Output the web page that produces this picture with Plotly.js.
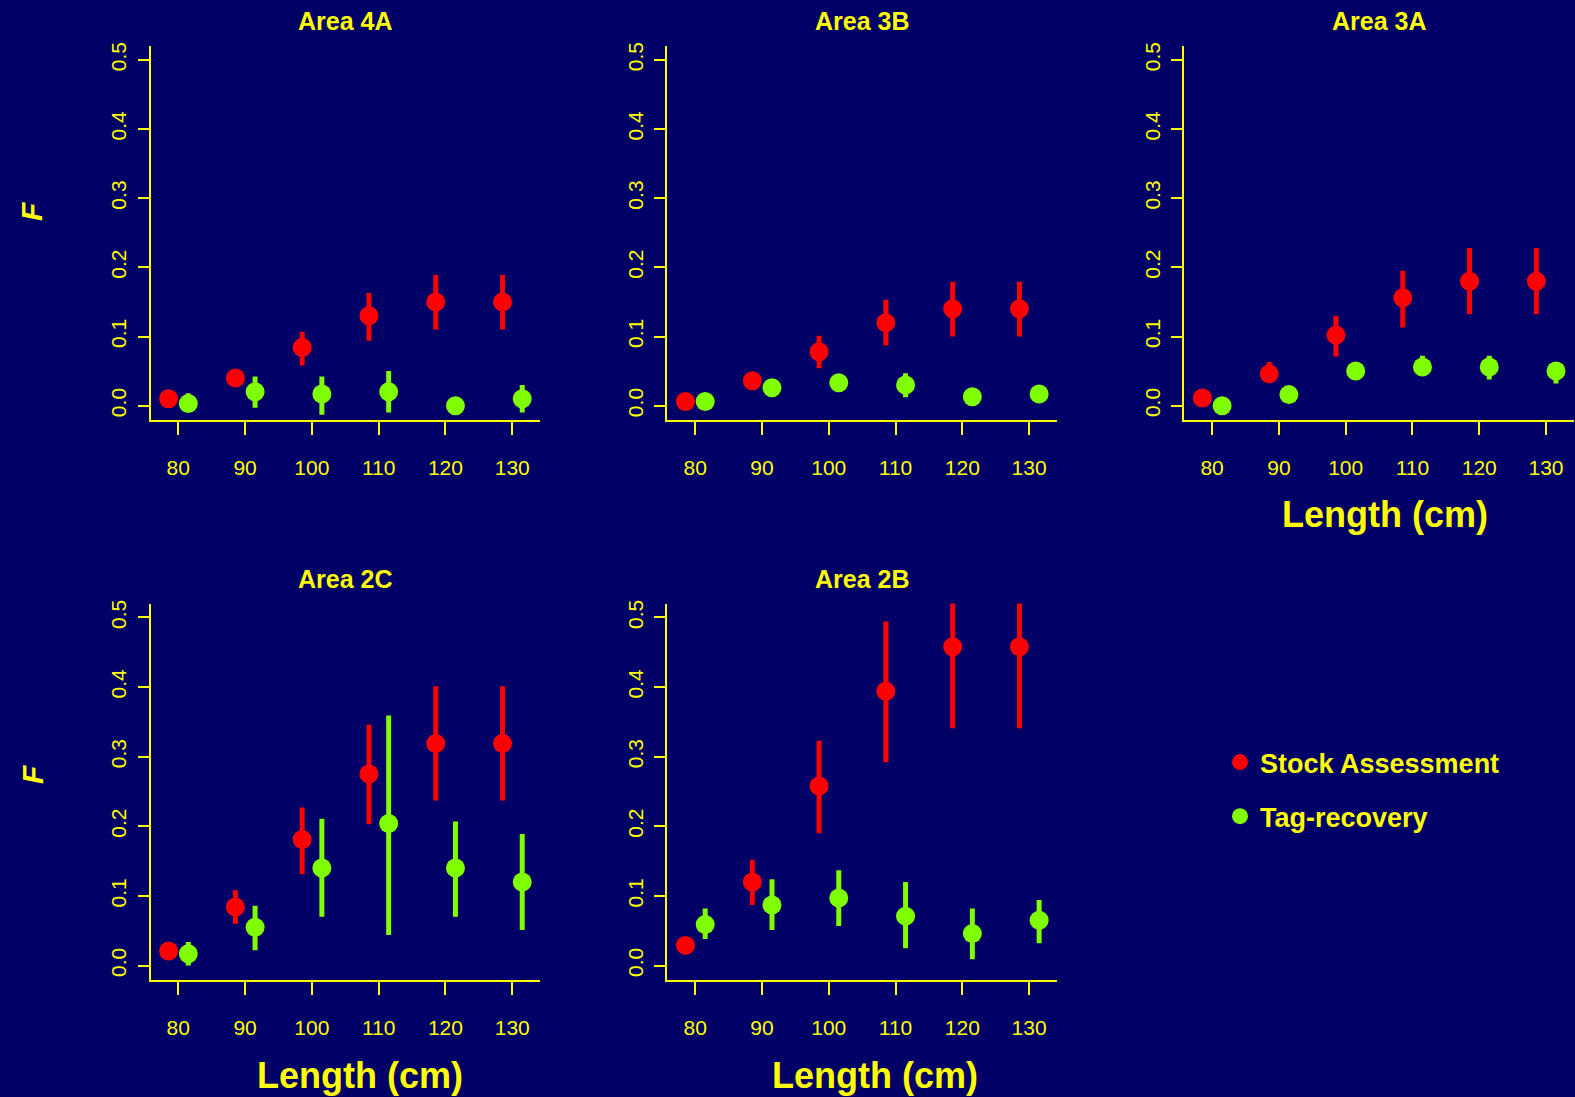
<!DOCTYPE html>
<html>
<head>
<meta charset="utf-8">
<script src="https://cdn.plot.ly/plotly-3.0.1.min.js"></script>
<style>
  html, body { margin: 0; padding: 0; background: #000066; }
  #chart { width: 1575px; height: 1097px; }
</style>
</head>
<body>
<div id="chart"></div>
<script>
// ---------------- DATA ----------------
const areaNames = ["Area 4A", "Area 3B", "Area 3A", "Area 2C", "Area 2B"];
const lengths = [80, 90, 100, 110, 120, 130];
const xTicks = [80, 90, 100, 110, 120, 130];
const yTicks = [0, 0.1, 0.2, 0.3, 0.4, 0.5];
const seriesNames = ["Stock Assessment", "Tag-recovery"];

// Area 4A
const stockF_4A  = [0.010, 0.040, 0.084, 0.130, 0.150, 0.150];
const stockLo_4A = [0.010, 0.040, 0.058, 0.094, 0.110, 0.110];
const stockHi_4A = [0.010, 0.040, 0.107, 0.163, 0.189, 0.189];
const tagF_4A    = [0.003, 0.020, 0.017, 0.020, 0.000, 0.010];
const tagLo_4A   = [-0.008, -0.003, -0.013, -0.010, 0.000, -0.010];
const tagHi_4A   = [0.018, 0.042, 0.042, 0.050, 0.000, 0.030];

// Area 3B
const stockF_3B  = [0.006, 0.036, 0.078, 0.120, 0.140, 0.140];
const stockLo_3B = [0.006, 0.036, 0.054, 0.087, 0.100, 0.100];
const stockHi_3B = [0.006, 0.036, 0.101, 0.153, 0.179, 0.179];
const tagF_3B    = [0.006, 0.026, 0.033, 0.030, 0.013, 0.017];
const tagLo_3B   = [0.006, 0.026, 0.033, 0.012, 0.013, 0.017];
const tagHi_3B   = [0.006, 0.026, 0.033, 0.047, 0.013, 0.017];

// Area 3A
const stockF_3A  = [0.011, 0.046, 0.102, 0.156, 0.180, 0.180];
const stockLo_3A = [0.011, 0.040, 0.071, 0.113, 0.132, 0.132];
const stockHi_3A = [0.011, 0.063, 0.130, 0.195, 0.228, 0.228];
const tagF_3A    = [0.000, 0.016, 0.050, 0.056, 0.056, 0.050];
const tagLo_3A   = [0.000, 0.016, 0.050, 0.045, 0.038, 0.032];
const tagHi_3A   = [0.000, 0.016, 0.050, 0.072, 0.072, 0.060];

// Area 2C
const stockF_2C  = [0.021, 0.084, 0.181, 0.275, 0.319, 0.319];
const stockLo_2C = [0.021, 0.060, 0.131, 0.203, 0.237, 0.237];
const stockHi_2C = [0.021, 0.108, 0.227, 0.346, 0.401, 0.401];
const tagF_2C    = [0.017, 0.055, 0.140, 0.204, 0.140, 0.120];
const tagLo_2C   = [0.000, 0.022, 0.070, 0.044, 0.070, 0.051];
const tagHi_2C   = [0.034, 0.086, 0.211, 0.359, 0.207, 0.189];

// Area 2B
const stockF_2B  = [0.029, 0.120, 0.258, 0.394, 0.458, 0.458];
const stockLo_2B = [0.029, 0.087, 0.190, 0.292, 0.341, 0.341];
const stockHi_2B = [0.029, 0.152, 0.323, 0.494, 0.575, 0.575];
const tagF_2B    = [0.059, 0.087, 0.097, 0.071, 0.046, 0.065];
const tagLo_2B   = [0.038, 0.051, 0.057, 0.025, 0.009, 0.032];
const tagHi_2B   = [0.082, 0.124, 0.137, 0.120, 0.082, 0.094];

// ---------------- STYLE / LAYOUT ----------------
const W = 1575, H = 1097;
const BG = "#000066", YEL = "#FFFF00", RED = "#FF0000", GRN = "#7FFF00";
const FONT = "Liberation Sans, Arial, Helvetica, sans-serif";
const stockOffset = -1.45, tagOffset = 1.5;   // dodge of the two series around each length

const panels = [
  {F: [stockF_4A, stockLo_4A, stockHi_4A], T: [tagF_4A, tagLo_4A, tagHi_4A]},
  {F: [stockF_3B, stockLo_3B, stockHi_3B], T: [tagF_3B, tagLo_3B, tagHi_3B]},
  {F: [stockF_3A, stockLo_3A, stockHi_3A], T: [tagF_3A, tagLo_3A, tagHi_3A]},
  {F: [stockF_2C, stockLo_2C, stockHi_2C], T: [tagF_2C, tagLo_2C, tagHi_2C]},
  {F: [stockF_2B, stockLo_2B, stockHi_2B], T: [tagF_2B, tagLo_2B, tagHi_2B]}
];

// pixel boxes of the plot regions
const colLeft = [150.5, 667.4, 1184.3];
const plotW = 389.5;
const rowTB = [[46, 419.5], [603.5, 979.5]];
const cell = [[0,0],[0,1],[0,2],[1,0],[1,1]]; // [row, col]

const px = v => v / W;
const py = v => 1 - v / H;

const traces = [];
const layout = {
  width: W, height: H,
  paper_bgcolor: BG, plot_bgcolor: BG,
  margin: {l: 0, r: 0, t: 0, b: 0},
  font: {family: FONT, color: YEL},
  showlegend: true,
  legend: {
    x: px(1220), y: py(738), xanchor: "left", yanchor: "top",
    bgcolor: "rgba(0,0,0,0)", borderwidth: 0,
    font: {family: FONT, size: 27, color: YEL},
    tracegroupgap: 16, traceorder: "grouped"
  },
  annotations: []
};

panels.forEach((p, i) => {
  const [r, c] = cell[i];
  const left = colLeft[c], right = left + plotW;
  const [top, bottom] = rowTB[r];
  const suf = i === 0 ? "" : String(i + 1);
  const xa = "x" + suf, ya = "y" + suf;

  layout["xaxis" + suf] = {
    domain: [px(left), px(right)],
    anchor: ya,
    range: [75.84, 134.16],
    tickmode: "array", tickvals: xTicks, ticktext: xTicks.map(String),
    showline: true, linecolor: YEL, linewidth: 2,
    ticks: "outside", ticklen: 13, tickwidth: 2, tickcolor: YEL,
    ticklabelstandoff: 15,
    tickfont: {family: FONT, size: 21, color: YEL},
    showgrid: false, zeroline: false, fixedrange: true
  };
  layout["yaxis" + suf] = {
    domain: [py(bottom), py(top)],
    anchor: xa,
    range: [-0.02, 0.52],
    tickmode: "array", tickvals: yTicks, ticktext: yTicks.map(v => v.toFixed(1)),
    tickangle: -90,
    showline: true, linecolor: YEL, linewidth: 2,
    ticks: "outside", ticklen: 11, tickwidth: 2, tickcolor: YEL,
    ticklabelstandoff: 3,
    tickfont: {family: FONT, size: 21, color: YEL},
    showgrid: false, zeroline: false, fixedrange: true
  };

  const mk = (vals, off, color, name, group) => ({
    type: "scatter", mode: "markers",
    x: lengths.map(l => l + off), y: vals[0],
    xaxis: xa, yaxis: ya,
    name: "<b>" + name + "</b>", legendgroup: group, showlegend: i === 0,
    marker: {color: color, size: 19, line: {width: 0}},
    error_y: {
      type: "data", symmetric: false,
      array: vals[2].map((h, k) => h - vals[0][k]),
      arrayminus: vals[1].map((l, k) => vals[0][k] - l),
      color: color, thickness: 5, width: 0
    },
    cliponaxis: true, hoverinfo: "skip"
  });
  traces.push(mk(p.F, stockOffset, RED, seriesNames[0], "sa"));
  traces.push(mk(p.T, tagOffset, GRN, seriesNames[1], "tag"));

  // panel title
  layout.annotations.push({
    text: "<b>" + areaNames[i] + "</b>", xref: "paper", yref: "paper",
    x: px((left + right) / 2), y: py(r === 0 ? 20.5 : 579),
    xanchor: "center", yanchor: "middle", showarrow: false,
    font: {family: FONT, size: 25, color: YEL}
  });
});

// x-axis titles (only on panels 3A, 2C, 2B)
[[1385, 515], [360, 1075], [875, 1075]].forEach(([x, y]) => {
  layout.annotations.push({
    text: "<b>Length (cm)</b>", xref: "paper", yref: "paper",
    x: px(x), y: py(y), xanchor: "center", yanchor: "middle", showarrow: false,
    font: {family: FONT, size: 36, color: YEL}
  });
});
// y-axis titles F
[[32, 206], [32, 769]].forEach(([x, y]) => {
  layout.annotations.push({
    text: "<b><i>F</i></b>", xref: "paper", yref: "paper",
    x: px(x), y: py(y + 6), xanchor: "center", yanchor: "middle", showarrow: false,
    textangle: -90,
    font: {family: FONT, size: 30, color: YEL}
  });
});

Plotly.newPlot("chart", traces, layout, {staticPlot: true, displayModeBar: false});
</script>
</body>
</html>
